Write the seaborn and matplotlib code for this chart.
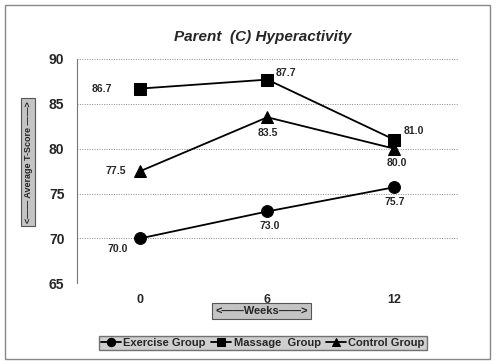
import matplotlib
matplotlib.use("Agg")
import matplotlib.pyplot as plt
import seaborn as sns
import pandas as pd

# values
weeks = ["0", "6", "12"]
exercise = [70.0, 73.0, 75.7]
massage = [86.7, 87.7, 81.0]
control = [77.5, 83.5, 80.0]
groups = ["Exercise Group", "Massage  Group", "Control Group"]

df = pd.DataFrame({
    "week": list(range(3)) * 3,
    "score": exercise + massage + control,
    "group": [g for g in groups for _ in range(3)],
})

sns.set_style("white")
plt.rcParams["font.family"] = ["Liberation Sans", "DejaVu Sans"]

fig = plt.figure(figsize=(4.96, 3.64), dpi=100)
ax = fig.add_axes([0.155, 0.222, 0.768, 0.616])

markers = {"Exercise Group": "o", "Massage  Group": "s", "Control Group": "^"}
sns.lineplot(data=df, x="week", y="score", hue="group", style="group",
             markers=markers, dashes=False, palette=["black"] * 3,
             markersize=8.5, linewidth=1.3, markeredgecolor="black", ax=ax)

ax.set_xlim(-0.5, 2.5)
ax.set_ylim(65, 90)
ax.set_xticks(range(3))
ax.set_xticklabels(weeks, fontsize=9, fontweight="bold")
ax.set_yticks(range(65, 91, 5))
ax.set_yticklabels([str(v) for v in range(65, 91, 5)], fontsize=10, fontweight="bold")
ax.tick_params(axis="y", length=3, color="#777777", pad=6)
ax.tick_params(axis="x", length=0, pad=8)
ax.yaxis.grid(True, linestyle=(0, (1, 1.5)), color="#888888", linewidth=0.7)
for s in ["top", "right", "bottom"]:
    ax.spines[s].set_visible(False)
ax.spines["left"].set_color("#777777")
ax.set_xlabel("")
ax.set_ylabel("")

# data labels
offsets = {
    "Exercise Group": [(-0.18, -1.2), (0.02, -1.6), (0.0, -1.6)],
    "Massage  Group": [(-0.3, 0.0), (0.15, 0.7), (0.15, 1.0)],
    "Control Group": [(-0.19, 0.0), (0.0, -1.8), (0.02, -1.55)],
}
for g, vals in zip(groups, [exercise, massage, control]):
    for i, v in enumerate(vals):
        dx, dy = offsets[g][i]
        ax.text(i + dx, v + dy, f"{v:.1f}", ha="center", va="center",
                fontsize=7.5, fontweight="bold")

fig.text(0.53, 0.898, "Parent  (C) Hyperactivity", ha="center", va="center",
         fontsize=11, fontweight="bold", fontstyle="italic")

box = dict(boxstyle="square,pad=0.3", facecolor="#c4c4c4", edgecolor="#555555", linewidth=0.8)
fig.text(0.057, 0.555, "<—— Average T-Score ——>", rotation=90, ha="center", va="center",
         fontsize=6.5, fontweight="bold", bbox=box)
fig.text(0.528, 0.146, "<——Weeks——>", ha="center", va="center",
         fontsize=8, fontweight="bold", bbox=box)

handles, labels = ax.get_legend_handles_labels()
ax.legend_.remove()
leg = fig.legend(handles, labels, loc="center", bbox_to_anchor=(0.53, 0.058), ncol=3,
                 frameon=True, fancybox=False, fontsize=8, handlelength=1.8,
                 columnspacing=0.5, handletextpad=0.2, borderpad=0.2)
leg.get_frame().set_facecolor("#c4c4c4")
leg.get_frame().set_edgecolor("#555555")
for t in leg.get_texts():
    t.set_fontweight("bold")
for h in leg.legend_handles:
    h.set_markersize(6)

fig.patches.append(plt.Rectangle((0.01, 0.015), 0.978, 0.97, transform=fig.transFigure,
                                 fill=False, edgecolor="#888888", linewidth=1))

fig.savefig("out.png", dpi=100)
